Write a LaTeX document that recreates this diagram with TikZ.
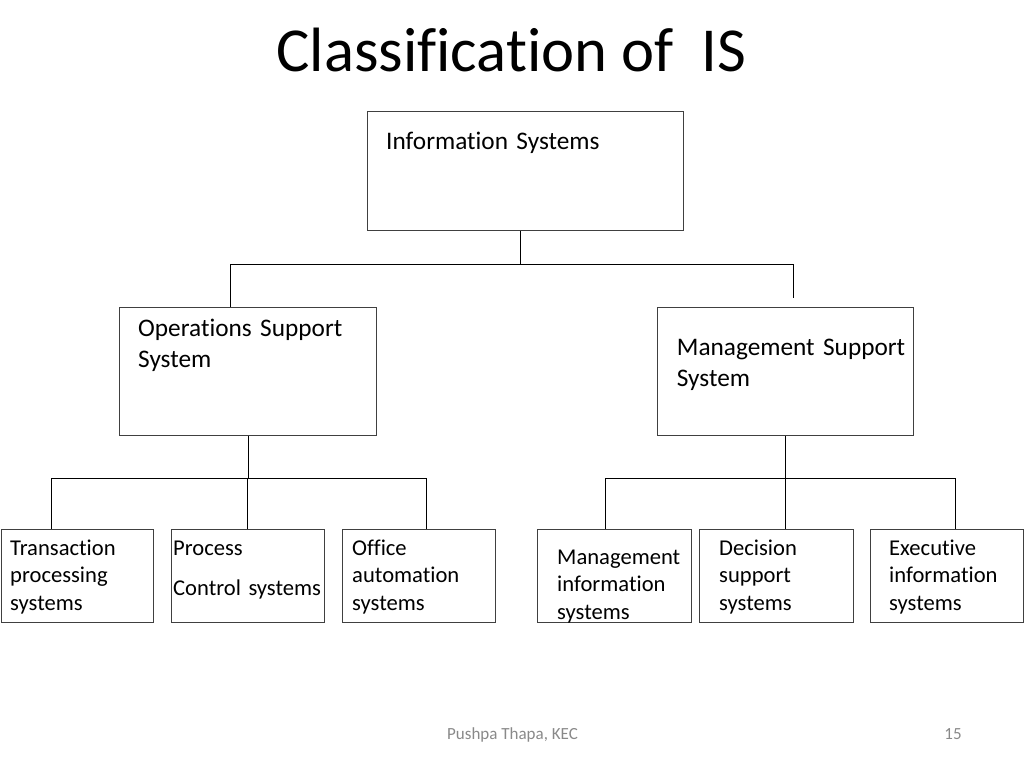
\documentclass[tikz,border=0pt]{standalone}
\usepackage{fontspec}
\setmainfont{Carlito}[Ligatures=CommonOff]
\definecolor{footgray}{RGB}{137,137,137}
\definecolor{boxgray}{RGB}{64,64,64}
\tikzset{
  box/.style={draw=boxgray, line width=1pt, anchor=north west, inner sep=0pt},
  bigtxt/.style={anchor=base west, inner sep=0pt, align=left, text width=240pt,
    font=\fontsize{25.3}{31.2}\selectfont},
  smalltxt/.style={anchor=base west, inner sep=0pt, align=left, text width=160pt,
    font=\fontsize{22.6}{27.75}\selectfont},
  link/.style={line width=0.95pt},
  foot/.style={anchor=base, text=footgray, font=\fontsize{17}{20}\selectfont}
}
\begin{document}
\begin{tikzpicture}[x=1pt,y=-1pt]
    \useasboundingbox (0,0) rectangle (1024,768);
    \node[anchor=base, font=\fontsize{62.6}{75}\selectfont] (title) at (511.5,71) {Classification of\ \ IS};
    % top level
    \node[box, minimum width=316pt, minimum height=119.3pt] (isb) at (366.7,110.7) {};
    \node[bigtxt] (isT) at (386,149) {Information Systems};
    % second level
    \node[box, minimum width=256.4pt, minimum height=128.3pt] (oss) at (119.3,306.7) {};
    \node[bigtxt] (ossT) at (138,336) {Operations Support\\System};
    \node[box, minimum width=256.6pt, minimum height=127.7pt] (mss) at (656.7,307.3) {};
    \node[bigtxt] (mssT) at (676.7,355) {Management Support\\System};
    % third level
    \node[box, minimum width=152.3pt, minimum height=93.5pt] (tps) at (1,528.7) {};
    \node[smalltxt] (tpsT) at (10,555) {Transaction\\processing\\systems};
    \node[box, minimum width=153.3pt, minimum height=93.5pt] (pcs) at (170.7,528.7) {};
    \node[smalltxt] (pcsT) at (173,555) {Process\\[13pt]Control systems};
    \node[box, minimum width=153pt, minimum height=93.5pt] (oas) at (341.7,528.7) {};
    \node[smalltxt] (oasT) at (352,555) {Office\\automation\\systems};
    \node[box, minimum width=153.7pt, minimum height=93.5pt] (mis) at (537.3,528.7) {};
    \node[smalltxt] (misT) at (557,564) {Management\\information\\systems};
    \node[box, minimum width=154pt, minimum height=93.5pt] (dss) at (699.3,528.7) {};
    \node[smalltxt] (dssT) at (719,555) {Decision\\support\\systems};
    \node[box, minimum width=152.7pt, minimum height=93.5pt] (eis) at (870.3,528.7) {};
    \node[smalltxt] (eisT) at (889,555) {Executive\\information\\systems};
    % connectors
    \coordinate (topJ) at (520.3,264);
    \coordinate (topL) at (230.7,264);
    \coordinate (topR) at (793.7,264);
    \coordinate (topRend) at (793.7,297.7);
    \draw[link] (topJ |- isb.south) -- (topJ);
    \draw[link] (topL |- oss.north) -- (topL) -- (topR) -- (topRend);
    \coordinate (ossL) at (51,478);
    \coordinate (ossR) at (426.7,478);
    \draw[link] (oss.south) -- (oss.south |- ossL);
    \draw[link] (ossL |- tps.north) -- (ossL) -- (ossR) -- (ossR |- oas.north);
    \draw[link] (pcs.north) -- (pcs.north |- ossL);
    \coordinate (mssL) at (605.3,478);
    \coordinate (mssM) at (785.7,478);
    \coordinate (mssR) at (955.7,478);
    \draw[link] (mss.south) -- (mss.south |- mssL);
    \draw[link] (mssL |- mis.north) -- (mssL) -- (mssR) -- (mssR |- eis.north);
    \draw[link] (mssM) -- (mssM |- dss.north);
    % footer
    \node[foot] (author) at (512.5,739) {Pushpa Thapa, KEC};
    \node[foot] (page) at (953,739) {15};
\end{tikzpicture}
\end{document}
